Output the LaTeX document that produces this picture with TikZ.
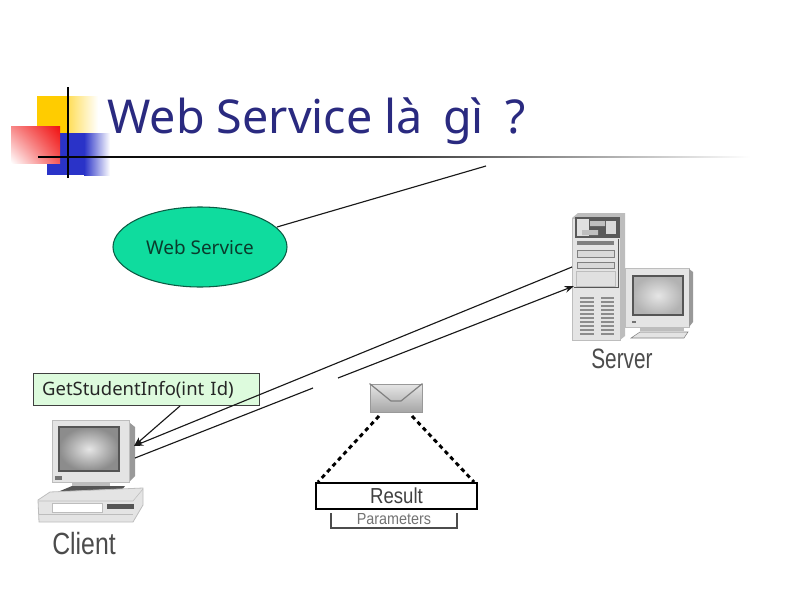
\documentclass[tikz,border=0pt]{standalone}
\usepackage{fontspec}
\setmainfont{Noto Sans}
\newfontfamily\narrowfont{Liberation Sans}
\usetikzlibrary{shapes.geometric,arrows.meta,shadings}
\definecolor{titleblue}{HTML}{2A2A80}
\definecolor{calloutgreen}{HTML}{DDFBDD}
\definecolor{ovalgreen}{HTML}{0FDC9E}
\definecolor{ovaledge}{HTML}{0B5C44}
\definecolor{ovaltext}{HTML}{0A3B2C}
\definecolor{logoyellow}{HTML}{FFCC00}
\definecolor{logoblue}{HTML}{2A33C8}
\definecolor{logored}{HTML}{F01010}
\definecolor{devlight}{HTML}{E4E4E4}
\definecolor{devmid}{HTML}{BDBDBD}
\definecolor{devdark}{HTML}{555555}
\tikzset{
  conn/.style={draw=black!90,line width=0.85pt},
  arrowconn/.style={conn,-{Stealth[length=7pt,width=5pt]}},
  devicebody/.style={draw=devmid,fill=devlight,line width=0.6pt},
  devicedark/.style={draw=devdark,line width=0.7pt},
  devlabel/.style={text=black!70,font=\narrowfont\fontsize{20}{20}\selectfont},
  dashconn/.style={draw=black,line width=2.2pt,dash pattern=on 3.2pt off 2.8pt},
}
\begin{document}
\begin{tikzpicture}[x=0.75pt,y=-0.75pt]
\useasboundingbox (0,0) rectangle (800,600);
\fill[white] (0,0) rectangle (800,600);
% logo
\fill[logoyellow] (37,96) rectangle (68,150);
\shade[left color=logoyellow!65!white,right color=white] (68,96) rectangle (98,150);
\fill[logoblue] (47,133) rectangle (84,175);
\shade[left color=logoblue,right color=white] (84,133) rectangle (110,175);
\shade[shading=bilinear interpolation,lower left=white,upper right=logored,upper left=logored!50!white,lower right=logored!70!white] (11,126) rectangle (60,163);
\draw[black,line width=1.5pt] (68,87) -- (68,178);
\shade[left color=black,right color=white,middle color=black!80] (38,156.1) rectangle (750,157.9);
\node[text=titleblue,anchor=base west,inner sep=0pt,font=\fontsize{35}{35}\selectfont] (title) at (107,133) {Web Service là\ \hspace{6pt}gì\ \hspace{7pt}?};
% ellipse
\node[ellipse,draw=ovaledge,line width=0.8pt,fill=ovalgreen,text=ovaltext,minimum width=130.5pt,minimum height=60pt,inner sep=0pt,font=\fontsize{14.2}{16}\selectfont] (ws) at (200,247) {Web Service};
\coordinate (wsstart) at (277,227);
\coordinate (wsend) at (486,166);
\draw[conn] (wsstart) -- (wsend);
% server tower
\fill[devmid] (572,218) -- (578,213) -- (625,213) -- (625,336) -- (620,340) -- (572,340) -- cycle;
\node[devicebody,minimum width=36pt,minimum height=91.5pt,inner sep=0pt] (server) at (596,279) {};
\fill[black!65] (575,217) rectangle (620,238);
\fill[white!88!black] (577,219) rectangle (589,236);
\fill[black!25] (590,221) rectangle (605,226) (582,230) rectangle (598,235);
\fill[white!85!black] (606,221) rectangle (616,234);
\draw[devicedark] (618,239) -- (618,287.5) -- (574,287.5);
\fill[black!50] (577,241) rectangle (614,245);
\fill[white!85!black,draw=black!50] (577,250) rectangle (614,257);
\fill[white!85!black,draw=black!50] (577,262) rectangle (614,268);
\fill[white!88!black,draw=devmid] (576,271) rectangle (615,286);
\foreach \yy in {297,301,...,333}{
  \fill[black!45] (580,\yy) rectangle (594,\yy+2.2);
  \fill[black!45] (601,\yy) rectangle (614,\yy+2.2);
}
% server monitor
\node[devicebody,minimum width=48pt,minimum height=44pt,inner sep=0pt] (servermon) at (657,298) {};
\fill[black!40] (689,269) -- (693,272) -- (693,322) -- (689,327) -- cycle;
\shade[inner color=white!90!black,outer color=black!30,draw=devdark,line width=0.8pt] (633,276) rectangle (683,315);
\fill[black!55] (632,321) rectangle (636,323);
\fill[devmid] (640,327) rectangle (684,331);
\fill[devlight,draw=black!50] (631,338) -- (640,332) -- (688,332) -- (684,338) -- cycle;
\node[devlabel,xscale=0.78,yscale=1.05] (serverlabel) at (622,359) {Server};
% client monitor
\node[devicebody,minimum width=58pt,minimum height=47pt,inner sep=0pt] (client) at (91,451.5) {};
\fill[black!40] (130,423) -- (135,427) -- (135,476) -- (130,481) -- cycle;
\shade[inner color=white!90!black,outer color=black!45,draw=devdark,line width=0.9pt] (59,427) rectangle (119,471);
\fill[black!55] (55,476) rectangle (62,480);
\fill[devmid] (72,482) rectangle (110,486);
\fill[devdark] (60,491) -- (72,486) -- (125,486) -- (121,491) -- cycle;
% client base
\fill[devlight,draw=devmid,line width=0.6pt] (38,500) -- (50,492) -- (143,488) -- (143,505) -- (133,522) -- (39,522) -- cycle;
\draw[devmid] (38,501) -- (133,501) -- (143,489);
\draw[devmid] (39,514) -- (133,514);
\fill[white,draw=devmid] (52,503) rectangle (102,512);
\fill[devdark] (107,504) rectangle (134,509);
\node[devlabel,xscale=0.93,yscale=1.15] (clientlabel) at (84,544) {Client};
% callout
\node[draw=black!75,line width=0.8pt,fill=calloutgreen,minimum width=170pt,minimum height=24.5pt,inner ysep=0pt,inner xsep=6.75pt,text width=156.5pt,align=left,text=black!85,font=\fontsize{13.85}{16}\selectfont] (call) at (146.5,389.5) {GetStudentInfo(int Id)};
% connectors
\coordinate (callbot) at (180,406);
\coordinate (clientin) at (134,446);
\coordinate (serverout) at (572,267);
\coordinate (serverin) at (574,286);
\coordinate (gapa) at (338,378);
\coordinate (gapb) at (313,388);
\coordinate (clientout) at (135,458);
\draw[arrowconn] (callbot) -- (clientin);
\draw[arrowconn] (serverout) -- (clientin);
\draw[arrowconn] (gapa) -- (serverin);
\draw[conn] (gapb) -- (clientout);
% envelope
\node[draw=black!40,line width=0.7pt,top color=black!10,bottom color=black!35,minimum width=39pt,minimum height=21pt,inner sep=0pt] (env) at (396,398) {};
\draw[black!50,line width=0.9pt] (env.north west) -- (391,401) -- (401,401) -- (env.north east);
% parameters and result
\draw[black!70,line width=0.8pt] (331,513) -- (331,528) -- (457,528) -- (457,513);
\node[text=black!55,font=\narrowfont\fontsize{11}{11}\selectfont,xscale=0.98,yscale=1.1] (params) at (394,519.5) {Parameters};
\fill[white] (340,509) rectangle (450,512.5);
\node[draw=black,line width=1.3pt,fill=white,minimum width=120.5pt,minimum height=19.5pt,inner sep=0pt,text=black!75,font=\narrowfont\fontsize{15.5}{15.5}\selectfont] (res) at (396.5,496) {\scalebox{0.9}[1.05]{Result}};
\coordinate (envleft) at (379,416);
\coordinate (envright) at (412,416);
\coordinate (resleft) at (318,482);
\coordinate (resright) at (474,482);
\draw[dashconn] (envleft) -- (resleft);
\draw[dashconn] (envright) -- (resright);
\end{tikzpicture}
\end{document}
